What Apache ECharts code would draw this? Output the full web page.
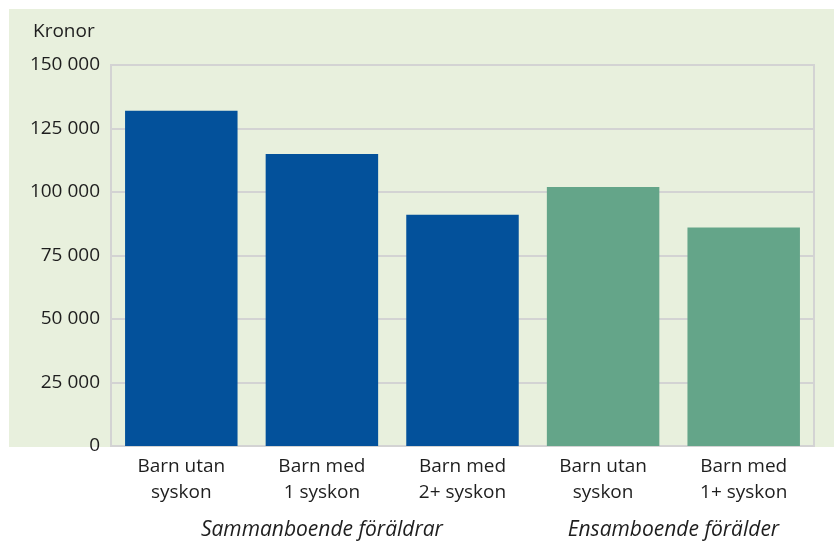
<!DOCTYPE html>
<html>
<head>
<meta charset="utf-8">
<script src="https://cdn.jsdelivr.net/npm/echarts@6/dist/echarts.min.js"></script>
<style>html,body{margin:0;padding:0;background:#fff;}#c{width:834px;height:541px;}</style>
</head>
<body>
<div id="c"></div>
<script>
var categories = ["Barn utan\nsyskon", "Barn med\n1 syskon", "Barn med\n2+ syskon", "Barn utan\nsyskon", "Barn med\n1+ syskon"];
var values = [132000, 115000, 91000, 102000, 86000];
var groupOf = [0, 0, 0, 1, 1];
var groups = ["Sammanboende föräldrar", "Ensamboende förälder"];
var groupColors = ["#03519b", "#64a589"];
var yTicks = [0, 25000, 50000, 75000, 100000, 125000, 150000];

var FONT = "Open Sans";
var chart = echarts.init(document.getElementById('c'));

// secondary axis slots (boundaryGap false, 11 points) to centre group labels
var groupSlots = [];
for (var i = 0; i < 11; i++) groupSlots.push("");
groupSlots[3] = groups[0];
groupSlots[8] = groups[1];

chart.setOption({
  backgroundColor: '#ffffff',
  animation: false,
  textStyle: { fontFamily: FONT },
  title: {
    text: 'Kronor', left: 28, top: 17,
    textStyle: { fontFamily: FONT, fontSize: 19, fontWeight: 'normal', color: '#1e1e1e' }
  },
  graphic: [{
    type: 'rect', z: -100, silent: true,
    shape: { x: 9, y: 9, width: 825, height: 438 },
    style: { fill: '#e8f0dd' }
  }],
  grid: {
    left: 111, right: 20, top: 65, bottom: 94,
    show: true, borderColor: '#d3d3d3', borderWidth: 2, backgroundColor: 'transparent'
  },
  xAxis: [{
    type: 'category', data: categories, position: 'bottom',
    axisLine: { show: false }, axisTick: { show: false },
    axisLabel: { fontFamily: FONT, fontSize: 19, color: '#1e1e1e', lineHeight: 26, margin: 8, interval: 0 }
  }, {
    type: 'category', data: groupSlots, position: 'bottom', boundaryGap: false, offset: 62,
    axisLine: { show: false }, axisTick: { show: false }, splitLine: { show: false },
    axisLabel: { fontFamily: FONT, fontSize: 21, color: '#1e1e1e', fontStyle: 'italic', interval: 0, margin: 12 }
  }],
  yAxis: {
    type: 'value', min: yTicks[0], max: yTicks[yTicks.length - 1], interval: 25000,
    axisLine: { show: false }, axisTick: { show: false },
    splitLine: { lineStyle: { color: '#d3d3d3', width: 2 } },
    axisLabel: {
      fontFamily: FONT, fontSize: 19, color: '#1e1e1e', margin: 11,
      formatter: function (v) { return String(v).replace(/\B(?=(\d{3})+(?!\d))/g, ' '); }
    }
  },
  series: [{
    type: 'bar', barWidth: '80%', xAxisIndex: 0,
    data: values.map(function (v, i) { return { value: v, itemStyle: { color: groupColors[groupOf[i]] } }; })
  }]
});
</script>
</body>
</html>
